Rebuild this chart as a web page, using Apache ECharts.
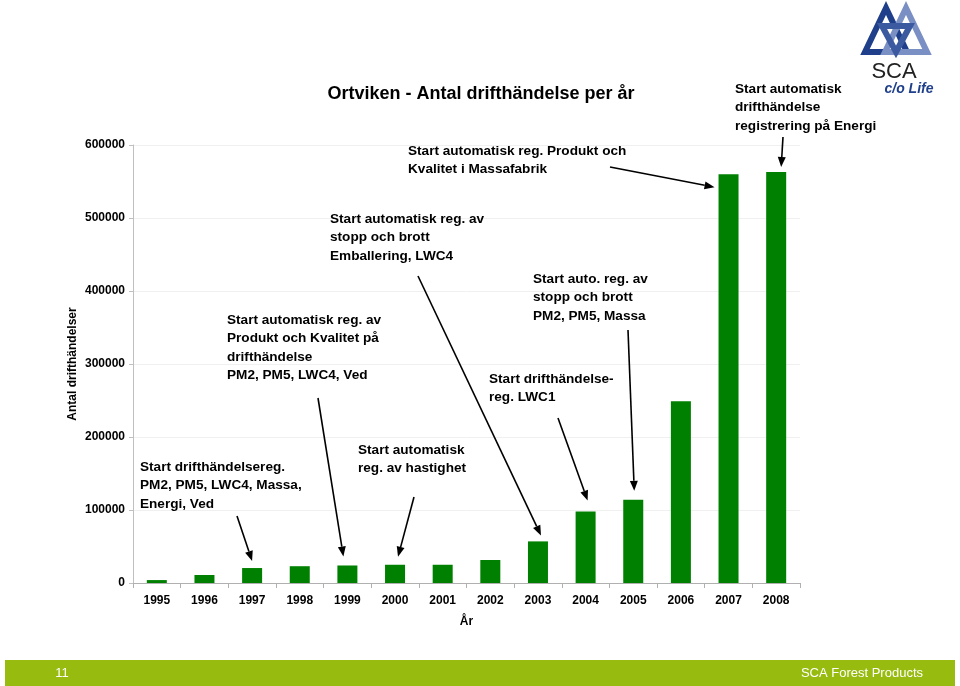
<!DOCTYPE html>
<html>
<head>
<meta charset="utf-8">
<script src="https://cdn.jsdelivr.net/npm/echarts@6/dist/echarts.min.js"></script>
<style>html,body{margin:0;padding:0;background:#fff;}#c{width:960px;height:686px;}</style>
</head>
<body>
<div id="c"></div>
<script>
const years = ['1995','1996','1997','1998','1999','2000','2001','2002','2003','2004','2005','2006','2007','2008'];
const events = [4000, 11000, 20500, 23000, 24000, 25000, 25000, 31500, 57000, 98000, 114000, 249000, 560000, 563000];
const yTicks = [0, 100000, 200000, 300000, 400000, 500000, 600000];

const chart = echarts.init(document.getElementById('c'));
const F = 'Liberation Sans, Arial, sans-serif';

chart.setOption({
  animation: false,
  grid: { left: 133, right: 160, top: 145, bottom: 103 },
  xAxis: {
    type: 'category', data: years,
    axisLine: { lineStyle: { color: '#b0b0b0' } },
    axisTick: { show: true, lineStyle: { color: '#b0b0b0' }, length: 5 },
    axisLabel: { color: '#000', fontFamily: F, fontWeight: 'bold', fontSize: 12, margin: 12 },
    name: 'År', nameLocation: 'middle', nameGap: 33, nameMoveOverlap: false,
    nameTextStyle: { color: '#000', fontFamily: F, fontWeight: 'bold', fontSize: 12 }
  },
  yAxis: {
    type: 'value', min: yTicks[0], max: yTicks[yTicks.length - 1], interval: yTicks[1] - yTicks[0],
    axisLine: { show: true, lineStyle: { color: '#c0c0c0' } },
    axisTick: { show: true, lineStyle: { color: '#c0c0c0' }, length: 4 },
    splitLine: { lineStyle: { color: '#f0f0f0' } },
    axisLabel: { color: '#000', fontFamily: F, fontWeight: 'bold', fontSize: 12, margin: 8, formatter: v => String(v) },
    name: 'Antal drifthändelser', nameLocation: 'middle', nameGap: 54, nameMoveOverlap: false,
    nameTextStyle: { color: '#000', fontFamily: F, fontWeight: 'bold', fontSize: 12 }
  },
  series: [{
    type: 'bar', data: events, barWidth: '42%',
    itemStyle: { color: '#008000' }
  }]
});

const notes = [
  { x: 140, y: 468, lines: ['Start drifthändelsereg.', 'PM2, PM5, LWC4, Massa,', 'Energi, Ved'] },
  { x: 227, y: 321, lines: ['Start automatisk reg. av', 'Produkt och Kvalitet på', 'drifthändelse', 'PM2, PM5, LWC4, Ved'] },
  { x: 330, y: 220, lines: ['Start automatisk reg. av', 'stopp och brott', 'Emballering, LWC4'] },
  { x: 358, y: 451, lines: ['Start automatisk', 'reg. av hastighet'] },
  { x: 408, y: 152, lines: ['Start automatisk reg. Produkt och', 'Kvalitet i Massafabrik'] },
  { x: 533, y: 280, lines: ['Start auto. reg. av', 'stopp och brott', 'PM2, PM5, Massa'] },
  { x: 489, y: 380, lines: ['Start drifthändelse-', 'reg. LWC1'] },
  { x: 735, y: 90, lines: ['Start automatisk', 'drifthändelse', 'registrering på Energi'] }
];
const arrows = [
  { sx: 237, sy: 516, cat: 2, dx: 0, dy: -7 },
  { sx: 318, sy: 398, cat: 4, dx: -4, dy: -9 },
  { sx: 414, sy: 497, cat: 5, dx: 3, dy: -8 },
  { sx: 418, sy: 276, cat: 8, dx: 3, dy: -6 },
  { sx: 558, sy: 418, cat: 9, dx: 2, dy: -11 },
  { sx: 628, sy: 330, cat: 10, dx: 1, dy: -9 },
  { sx: 610, sy: 167, cat: 12, dx: -14, dy: 13 },
  { sx: 783, sy: 137, cat: 13, dx: 5, dy: -5 }
];

const g = [];
notes.forEach(n => {
  n.lines.forEach((t, i) => {
    g.push({ type: 'text', left: n.x, top: n.y + i * 18.5 - 8, style: { text: t, fill: '#000', font: 'bold 13.6px ' + F } });
  });
});
arrows.forEach(a => {
  const p = chart.convertToPixel({ gridIndex: 0 }, [a.cat, events[a.cat]]);
  const ex = p[0] + a.dx, ey = p[1] + a.dy;
  const ang = Math.atan2(ey - a.sy, ex - a.sx);
  const L = 10, W = 4;
  const bx = ex - L * Math.cos(ang), by = ey - L * Math.sin(ang);
  const nx = -Math.sin(ang), ny = Math.cos(ang);
  g.push({ type: 'line', shape: { x1: a.sx, y1: a.sy, x2: bx, y2: by }, style: { stroke: '#000', lineWidth: 1.6 } });
  g.push({ type: 'polygon', shape: { points: [[ex, ey], [bx + nx * W, by + ny * W], [bx - nx * W, by - ny * W]] }, style: { fill: '#000' } });
});
g.push({ type: 'text', x: 481, y: 94, style: { text: 'Ortviken - Antal drifthändelse per år', fill: '#000', font: 'bold 18px ' + F, textAlign: 'center', textVerticalAlign: 'middle' } });
g.push({ type: 'rect', shape: { x: 5, y: 660, width: 950, height: 26 }, style: { fill: '#97bb0f' } });
g.push({ type: 'text', x: 62, y: 673, style: { text: '11', fill: '#fff', font: '13px ' + F, textAlign: 'center', textVerticalAlign: 'middle' } });
g.push({ type: 'text', x: 923, y: 673, style: { text: 'SCA Forest Products', fill: '#fff', font: '13px ' + F, textAlign: 'right', textVerticalAlign: 'middle' } });
const tri = (cx, top, h, w, col, up) => ({ type: 'polygon', shape: { points: up ? [[cx, top], [cx - w / 2, top + h], [cx + w / 2, top + h]] : [[cx - w / 2, top], [cx + w / 2, top], [cx, top + h]] }, style: { fill: 'none', stroke: col, lineWidth: 6, lineJoin: 'miter' } });
g.push(tri(886, 8, 44, 42, '#1f3f8a', true));
g.push(tri(906, 8, 44, 42, '#7a8fc4', true));
g.push(tri(896, 26, 26, 28, '#3b5aa0', false));
g.push({ type: 'text', x: 894, y: 72, style: { text: 'SCA', fill: '#222', font: '22px ' + F, textAlign: 'center', textVerticalAlign: 'middle' } });
g.push({ type: 'text', x: 909, y: 89, style: { text: 'c/o Life', fill: '#1f3f8a', font: 'italic bold 14px ' + F, textAlign: 'center', textVerticalAlign: 'middle' } });

chart.setOption({ graphic: g });
</script>
</body>
</html>
